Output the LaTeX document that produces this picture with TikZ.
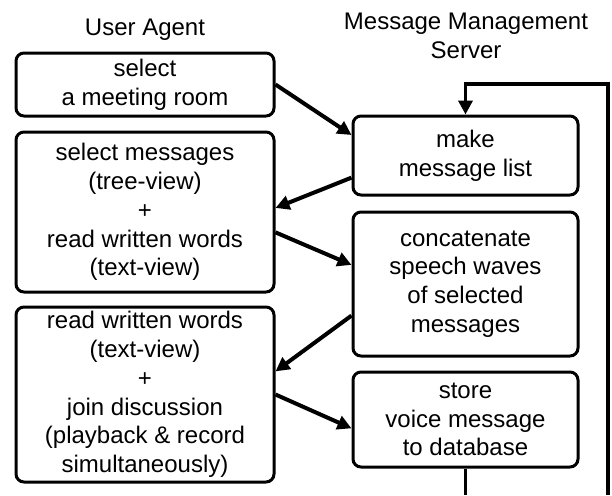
\documentclass[tikz,border=0pt]{standalone}
\usepackage{fontspec}
\setmainfont{Liberation Sans}
\usetikzlibrary{arrows.meta,calc,positioning}
\tikzstyle{proc} = [draw=black, line width=1.5pt, rounded corners=4pt, align=center, inner sep=0pt, font=\fontsize{12}{14.4}\selectfont]
\tikzstyle{title} = [align=center, font=\fontsize{12}{14.4}\selectfont]
\tikzstyle{arrow} = [line width=2pt, -{Triangle[length=7pt,width=7pt]}]
\begin{document}
\begin{tikzpicture}[x=0.5pt, y=-0.5pt]
\useasboundingbox (0,0) rectangle (612,495);
% column titles
\node[title] (ua) at (145,30) {User Agent};
\node[title] (mms) at (466,36) {Message Management\\Server};
% user agent side
\node[proc, minimum width=129pt, minimum height=31.5pt] (b1) at (145,84.5) {select\\a meeting room};
\node[proc, minimum width=129pt, minimum height=80pt] (b2) at (145,212) {select messages\\(tree-view)\\+\\read written words\\(text-view)};
\node[proc, minimum width=129pt, minimum height=87.5pt] (b3) at (145,394.5) {read written words\\(text-view)\\+\\join discussion\\(playback \& record\\simultaneously)};
% server side
\node[proc, minimum width=112.5pt, minimum height=39.5pt] (m1) at (465.5,155.5) {make\\message list};
\node[proc, minimum width=112.5pt, minimum height=72pt] (m2) at (465.5,284) {concatenate\\speech waves\\of selected\\messages};
\node[proc, minimum width=112.5pt, minimum height=47.5pt] (m3) at (465.5,419.5) {store\\voice message\\to database};
% exchanges
\draw[arrow] (b1.east) to ($(m1.north west)!0.25!(m1.south west)$);
\draw[arrow] ($(m1.north west)!0.77!(m1.south west)$) to ($(b2.north east)!0.475!(b2.south east)$);
\draw[arrow] ($(b2.north east)!0.625!(b2.south east)$) to ($(m2.north west)!0.37!(m2.south west)$);
\draw[arrow] ($(m2.north west)!0.715!(m2.south west)$) to ($(b3.north east)!0.37!(b3.south east)$);
\draw[arrow] (b3.east) to ($(m3.north west)!0.59!(m3.south west)$);
% loop back to the list
\coordinate (loopbot) at (608,495);
\coordinate (looptop) at (608,84);
\draw[line width=1.8pt] (m3.south) -- (m3.south |- loopbot);
\draw[arrow, line width=1.8pt] (loopbot) -- (looptop) -| (m1.north);
\end{tikzpicture}
\end{document}
